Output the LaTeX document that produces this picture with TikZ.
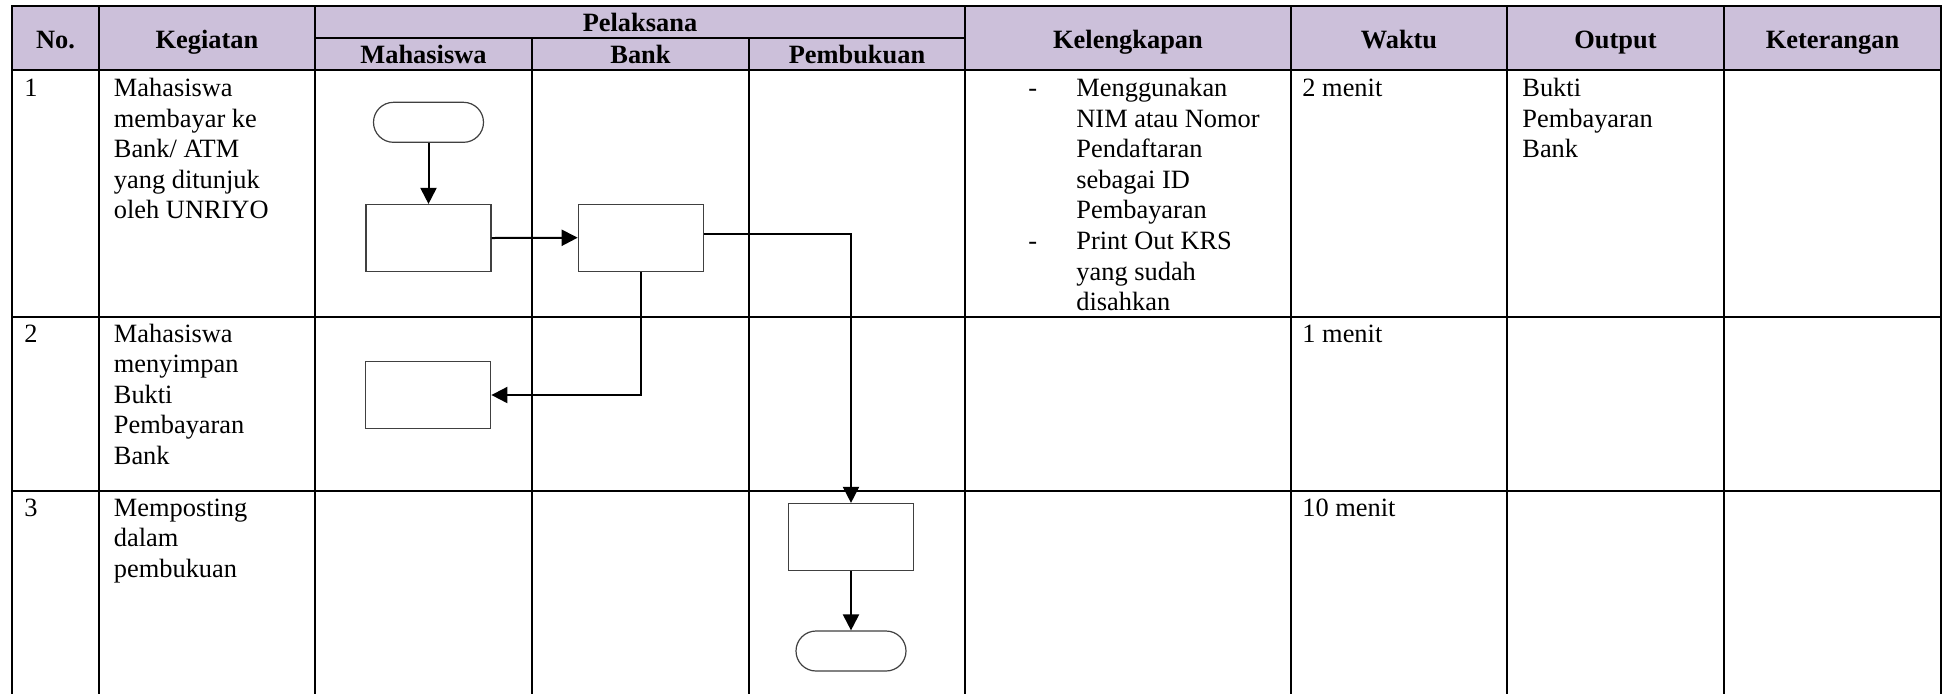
\documentclass[tikz,border=0pt]{standalone}
\usepackage{fontspec}
\setmainfont{Liberation Serif}
\usetikzlibrary{arrows.meta}
\definecolor{hdrfill}{RGB}{204,192,218}
\tikzset{
  grid/.style={line width=1.2pt, black, line cap=rect},
  procbox/.style={draw=black!75, line width=0.6pt, fill=white, rectangle, minimum width=62.5pt, minimum height=33.5pt, inner sep=0pt},
  termbox/.style={draw=black!75, line width=0.6pt, fill=white, rectangle, rounded corners=10pt, minimum width=55pt, minimum height=20pt, inner sep=0pt},
  arr/.style={line width=1pt, -{Triangle[length=8pt,width=8pt]}},
  hd/.style={font=\fontsize{13.2pt}{15.3pt}\selectfont\bfseries, anchor=base, inner sep=0pt},
  tx/.style={font=\fontsize{13.2pt}{15.3pt}\selectfont, anchor=base west, inner sep=0pt},
}
\newcommand\celltext[2]{\parbox[t]{#1}{\raggedright #2}}
\begin{document}
\begin{tikzpicture}[x=0.5pt,y=-0.5pt]
\useasboundingbox (0,0) rectangle (1950,693);
% header background
\fill[hdrfill] (12,6) rectangle (1941,70);
% grid lines
\draw[grid] (12,6) -- (1941,6);
\draw[grid] (315,37.7) -- (965,37.7);
\draw[grid] (12,70) -- (1941,70);
\draw[grid] (12,316.7) -- (1941,316.7);
\draw[grid] (12,490.7) -- (1941,490.7);
\foreach \x in {12,99,315,965,1291,1507,1724,1941} \draw[grid] (\x,6) -- (\x,693);
\foreach \x in {532,749} \draw[grid] (\x,37.7) -- (\x,693);
% header texts
\node[hd] (hno) at (55.5,48) {No.};
\node[hd] (hkeg) at (207,48) {Kegiatan};
\node[hd] (hpel) at (640,31.5) {Pelaksana};
\node[hd] (hmhs) at (423.5,63.5) {Mahasiswa};
\node[hd] (hbank) at (640.5,63.5) {Bank};
\node[hd] (hpem) at (857,63.5) {Pembukuan};
\node[hd] (hkel) at (1128,48) {Kelengkapan};
\node[hd] (hwak) at (1399,48) {Waktu};
\node[hd] (hout) at (1615.5,48) {Output};
\node[hd] (hket) at (1832.5,48) {Keterangan};
% row 1
\node[tx] (n1) at (24,96.5) {1};
\node[tx] (k1) at (113.5,96.5) {\celltext{95pt}{Mahasiswa\\ membayar ke\\ Bank/ ATM\\ yang ditunjuk\\ oleh UNRIYO}};
\node[tx] (d1) at (1028,96.5) {-};
\node[tx] (d2) at (1028,249.5) {-};
\node[tx] (l1) at (1076,96.5) {\celltext{100pt}{Menggunakan\\ NIM atau Nomor\\ Pendaftaran\\ sebagai ID\\ Pembayaran\\ Print Out KRS\\ yang sudah\\ disahkan}};
\node[tx] (w1) at (1302,96.5) {2 menit};
\node[tx] (o1) at (1522,96.5) {\celltext{95pt}{Bukti\\ Pembayaran\\ Bank}};
% row 2
\node[tx] (n2) at (24,342) {2};
\node[tx] (k2) at (113.5,342) {\celltext{95pt}{Mahasiswa\\ menyimpan\\ Bukti\\ Pembayaran\\ Bank}};
\node[tx] (w2) at (1302,342) {1 menit};
% row 3
\node[tx] (n3) at (24,516) {3};
\node[tx] (k3) at (113.5,516) {\celltext{95pt}{Memposting\\ dalam\\ pembukuan}};
\node[tx] (w3) at (1302,516) {10 menit};
% flow shapes
\node[termbox] (start) at (428.5,122.3) {};
\node[procbox] (b1) at (428.5,238) {};
\node[procbox] (b2) at (640.8,237.7) {};
\node[procbox] (b4) at (428.3,395) {};
\node[procbox] (b3) at (851,537) {};
\node[termbox] (stop) at (851,651) {};
% connectors
\draw[arr] (start) -- (b1);
\draw[arr] (b1.east) -- (b2.west);
\draw[arr] ([yshift=1.7pt]b2.east) -| (b3.north);
\draw[arr] (b2.south) |- (b4.east);
\draw[arr] (b3) -- (stop);
\end{tikzpicture}
\end{document}
